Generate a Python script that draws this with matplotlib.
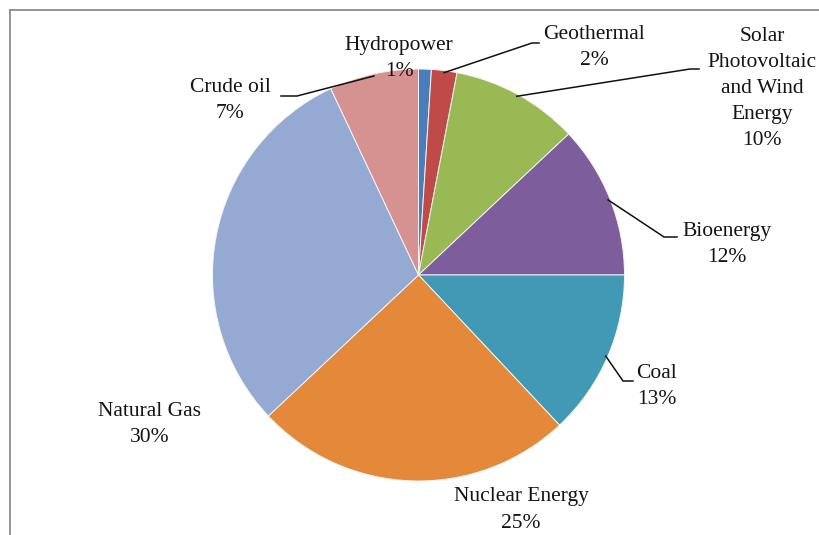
import numpy as np
import matplotlib
matplotlib.use("Agg")
import matplotlib.pyplot as plt

labels = ["Hydropower", "Geothermal", "Solar\nPhotovoltaic\nand Wind\nEnergy", "Bioenergy",
          "Coal", "Nuclear Energy", "Natural Gas", "Crude oil"]
values = [1, 2, 10, 12, 13, 25, 30, 7]
colors = ["#4a7ebb", "#be4b48", "#98b954", "#7d5d9c", "#4299b5", "#e4883a", "#94aad2", "#d59291"]

# label text-block centres (pixel coords from top-left)
label_pos = [(399, 58), (594, 47), (762, 88), (727, 244), (657, 387), (521, 510), (150, 424), (230, 100)]
# leader-line knee and stub end (pixel coords), None = no leader
leader = [None, ((532, 43), (539, 43)), ((690, 69), (699, 69)), ((664, 237), (677, 237)),
          ((623, 381), (633, 381)), None, None, ((297, 96), (281, 96))]

W, H = 820, 535
fig = plt.figure(figsize=(W / 100, H / 100), dpi=100)
ax = fig.add_axes([0, 0, 1, 1])
ax.set_xlim(0, W)
ax.set_ylim(0, H)
ax.axis("off")

cx, cy, r = 418.5, H - 275, 206
wedges, _ = ax.pie(values, colors=colors, startangle=90, counterclock=False,
                   center=(cx, cy), radius=r, frame=False,
                   wedgeprops=dict(edgecolor="#f4f4f4", linewidth=0.7))
ax.set_xlim(0, W)
ax.set_ylim(0, H)
ax.set_aspect("equal")

font = dict(family="Liberation Serif", size=15.5, color="#141414")
for lab, v, (px, py), w, ld in zip(labels, values, label_pos, wedges, leader):
    ax.text(px, H - py, f"{lab}\n{v}%", ha="center", va="center",
            linespacing=1.5, **font)
    if ld is not None:
        th = np.deg2rad((w.theta1 + w.theta2) / 2)
        sx, sy = cx + r * 0.99 * np.cos(th), cy + r * 0.99 * np.sin(th)
        (kx, ky), (ex, ey) = ld
        ax.plot([sx, kx, ex], [sy, H - ky, H - ey], color="#111111", lw=1.1,
                solid_joinstyle="miter")

# outer chart frame
ax.plot([10, 10], [0, H - 10], color="#8c8c8c", lw=1.3, clip_on=False)
ax.plot([10, W], [H - 10, H - 10], color="#8c8c8c", lw=1.3, clip_on=False)

fig.savefig("out.png", dpi=100, facecolor="white")
